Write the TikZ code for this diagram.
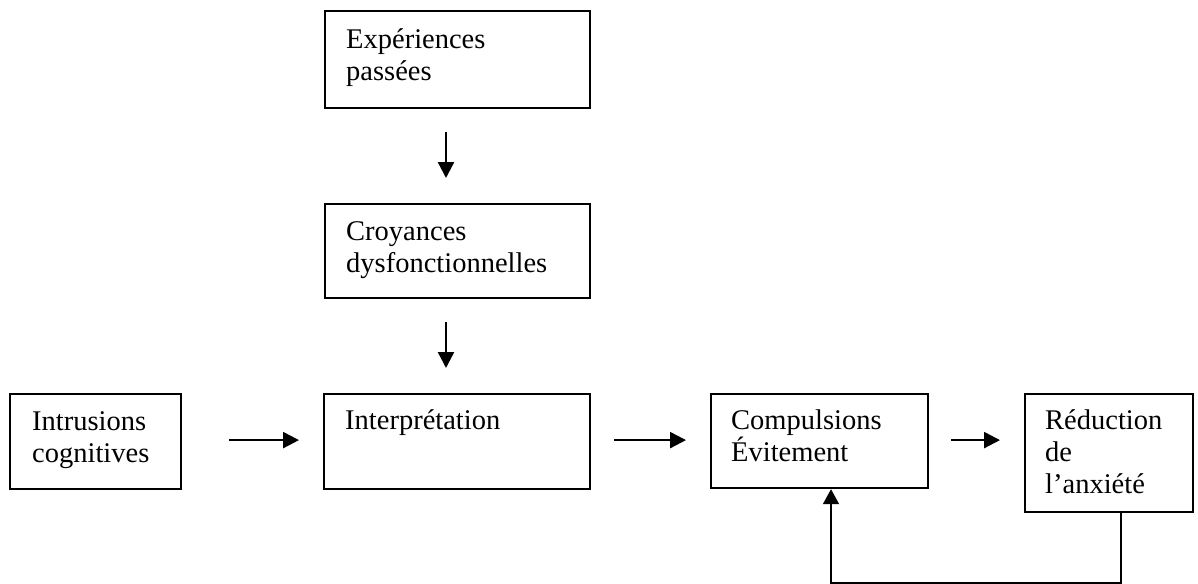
\documentclass[tikz,border=0pt]{standalone}
\usepackage{fontspec}
\setmainfont{Liberation Serif}
\usetikzlibrary{arrows.meta}
\tikzset{
  box/.style={draw=black, line width=2.2pt, rectangle, anchor=north west, inner sep=0pt},
  txt/.style={anchor=north west, inner sep=0pt, align=left, font=\fontsize{28.5}{32}\selectfont},
  arr/.style={line width=2.4pt, -{Triangle[length=16pt,width=16pt]}},
  fb/.style={line width=1.8pt, -{Triangle[length=15pt,width=16pt]}}
}
\begin{document}
\begin{tikzpicture}[x=1pt,y=1pt]
\useasboundingbox (0,0) rectangle (1198,-583);
% boxes
\node[box, minimum width=265pt, minimum height=97pt] (b1) at (324,-10) {};
\node[box, minimum width=265pt, minimum height=94pt] (b2) at (324,-203) {};
\node[box, minimum width=171pt, minimum height=95pt] (intr) at (9,-393) {};
\node[box, minimum width=266pt, minimum height=95pt] (interp) at (323,-393) {};
\node[box, minimum width=217pt, minimum height=94pt] (comp) at (710,-393) {};
\node[box, minimum width=168pt, minimum height=118pt] (red) at (1024,-393) {};
% texts
\node[txt] (t1) at ([xshift=22pt,yshift=-18.5pt]b1.north west) {Expériences\\passées};
\node[txt] (t2) at ([xshift=22pt,yshift=-18.5pt]b2.north west) {Croyances\\dysfonctionnelles};
\node[txt] (t3) at ([xshift=23pt,yshift=-18pt]intr.north west) {Intrusions\\cognitives};
\node[txt] (t4) at ([xshift=22pt,yshift=-16pt]interp.north west) {Interprétation};
\node[txt] (t5) at ([xshift=21pt,yshift=-17pt]comp.north west) {Compulsions\\Évitement};
\node[txt] (t6) at ([xshift=21pt,yshift=-16pt]red.north west) {Réduction\\de\\l’anxiété};
% arrows
\draw[arr] ([xshift=122pt,yshift=-23pt]b1.south west) -- ([xshift=122pt,yshift=25pt]b2.north west);
\draw[arr] ([xshift=122pt,yshift=-23pt]b2.south west) -- ([xshift=123pt,yshift=25pt]interp.north west);
\draw[arr] ([xshift=47pt,yshift=1.5pt]intr.east) -- ([xshift=-24pt,yshift=1.5pt]interp.west);
\draw[arr] ([xshift=23pt,yshift=1.5pt]interp.east) -- ([xshift=-24pt,yshift=1pt]comp.west);
\draw[arr] ([xshift=22pt,yshift=1pt]comp.east) -- ([xshift=-24pt,yshift=1pt]comp.east -| red.west);
\draw[fb] ([xshift=97pt]red.south west) -- ++(0,-69.5) -| ([xshift=121pt]comp.south west);
\end{tikzpicture}
\end{document}
